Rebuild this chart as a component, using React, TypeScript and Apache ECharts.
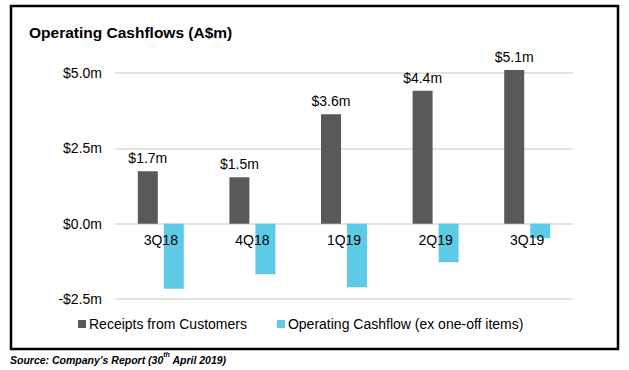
import React, { useEffect, useRef } from "react";
import * as echarts from "echarts";

const categories = ["3Q18", "4Q18", "1Q19", "2Q19", "3Q19"];
const receipts = [1.74, 1.54, 3.63, 4.41, 5.1];
const operating = [-2.16, -1.68, -2.11, -1.28, -0.48];
const yTicks = [-2.5, 0, 2.5, 5];

const fmt = (v: number) => (v < 0 ? "-$" + Math.abs(v).toFixed(1) + "m" : "$" + v.toFixed(1) + "m");

export default function App() {
  const ref = useRef<HTMLDivElement>(null);
  useEffect(() => {
    if (!ref.current) return;
    const chart = echarts.init(ref.current, undefined, { renderer: "svg" });
    chart.setOption({
      animation: false,
      backgroundColor: "#ffffff",
      textStyle: { fontFamily: "Liberation Sans, Arial, sans-serif" },
      title: {
        text: "Operating Cashflows (A$m)",
        left: 24,
        top: 19,
        textStyle: { fontSize: 15.5, fontWeight: "bold", color: "#000", fontFamily: "Liberation Sans, Arial, sans-serif" },
      },
      grid: { left: 115, right: 56, top: 73, bottom: 71, containLabel: false },
      legend: {
        left: 73,
        top: 312,
        icon: "rect",
        itemWidth: 8,
        itemHeight: 8,
        itemGap: 30,
        textStyle: { fontSize: 14, color: "#000", padding: [0, 0, 0, -2] },
        data: ["Receipts from Customers", "Operating Cashflow (ex one-off items)"],
      },
      xAxis: {
        type: "category",
        data: categories,
        position: "bottom",
        offset: -75,
        z: 10,
        axisLine: { show: false, onZero: false },
        axisTick: { show: false },
        axisLabel: { fontSize: 14, color: "#000", margin: 9 },
      },
      yAxis: {
        type: "value",
        min: yTicks[0],
        max: yTicks[yTicks.length - 1],
        interval: 2.5,
        axisLine: { show: false },
        axisTick: { show: false },
        splitLine: { lineStyle: { color: "#d9d9d9", width: 1.5 } },
        axisLabel: { fontSize: 14, color: "#000", margin: 13, formatter: (v: number) => fmt(v) },
      },
      series: [
        {
          name: "Receipts from Customers",
          type: "bar",
          data: receipts,
          barWidth: 20,
          barGap: "30%",
          clip: false,
          itemStyle: { color: "#595959" },
          label: {
            show: true,
            position: "top",
            distance: 6,
            fontSize: 14,
            color: "#000",
            formatter: (p: any) => fmt(p.value),
          },
        },
        {
          name: "Operating Cashflow (ex one-off items)",
          type: "bar",
          data: operating,
          barWidth: 20,
          barGap: "30%",
          clip: false,
          itemStyle: { color: "#5ECBE6" },
        },
      ],
      graphic: [
        {
          type: "rect",
          shape: { x: 11, y: 6, width: 607, height: 343 },
          style: { fill: "none", stroke: "#000", lineWidth: 2.5 },
          z: 100,
        },
        {
          type: "text",
          left: 10,
          top: 351,
          style: {
            text: "{a|Source: Company\u2019s Report (30}{s|th}{a| April 2019)}",
            rich: {
              a: { fontSize: 10.5, fontStyle: "italic", fontWeight: "bold", fill: "#000", fontFamily: "Liberation Sans Narrow, Liberation Sans, Arial", verticalAlign: "bottom", lineHeight: 14 },
              s: { fontSize: 7, fontStyle: "italic", fontWeight: "bold", fill: "#000", fontFamily: "Liberation Sans Narrow, Liberation Sans, Arial", verticalAlign: "top", lineHeight: 14, padding: [0, 0, 5, 0] },
            },
          },
        },
      ],
    });
    return () => chart.dispose();
  }, []);
  return <div ref={ref} style={{ position: "fixed", left: 0, top: 0, width: 629, height: 370 }} />;
}
